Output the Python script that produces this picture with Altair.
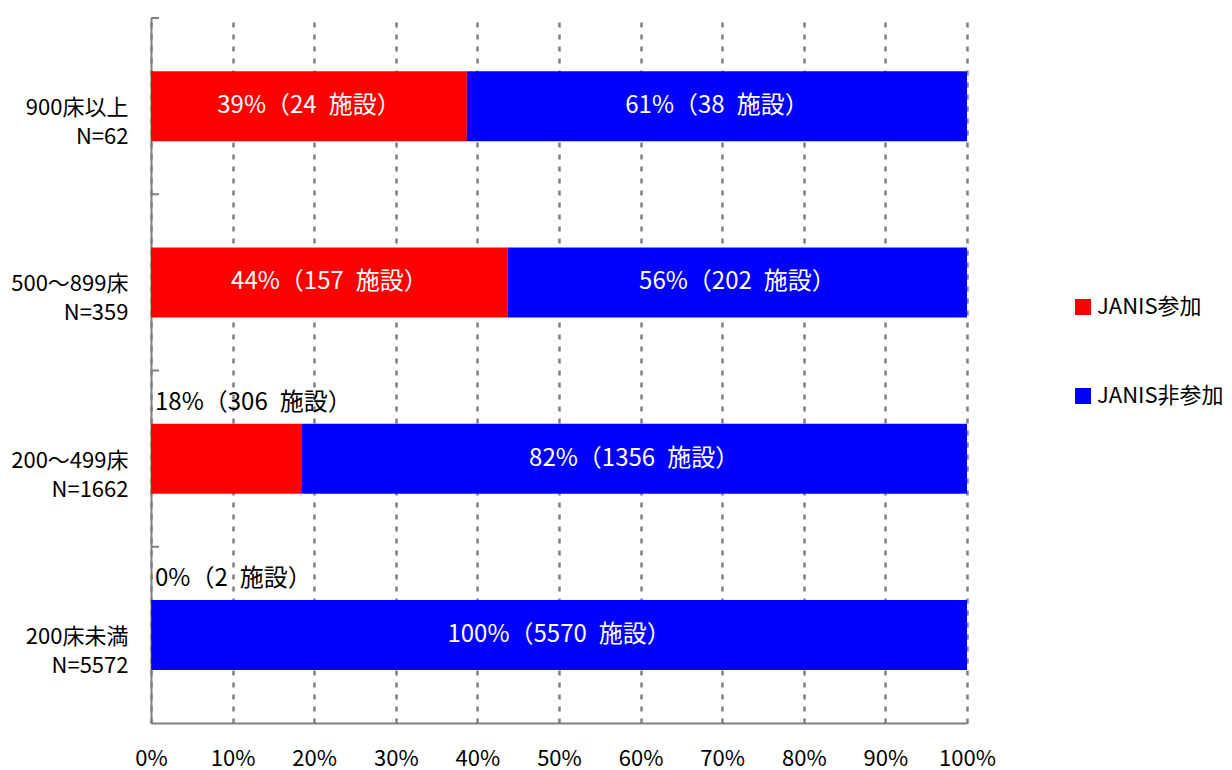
import altair as alt
import pandas as pd

categories = ["900床以上", "500～899床", "200～499床", "200床未満"]
totals = [62, 359, 1662, 5572]
series = ["JANIS参加", "JANIS非参加"]
joined_counts = [24, 157, 306, 2]
not_joined_counts = [38, 202, 1356, 5570]
joined_pct = [39, 44, 18, 0]
not_joined_pct = [61, 56, 82, 100]
colors = ["#FF0000", "#0000FF"]
x_ticks = [i / 10 for i in range(11)]

FONT = "Noto Sans CJK JP"
GRAY = "#808080"
SP = "\u2002"

rows = []
cat_labels = []
for i, c in enumerate(categories):
    lab = f"{c}\nN={totals[i]}"
    cat_labels.append(lab)
    s1 = joined_counts[i] / totals[i]
    rows.append(dict(cat=lab, series=series[0], start=0.0, end=s1, mid=s1 / 2,
                     text=f"{joined_pct[i]}%（{joined_counts[i]}{SP}施設）",
                     inside=bool(s1 > 0.3)))
    rows.append(dict(cat=lab, series=series[1], start=s1, end=1.0, mid=(s1 + 1) / 2,
                     text=f"{not_joined_pct[i]}%（{not_joined_counts[i]}{SP}施設）",
                     inside=True))
df = pd.DataFrame(rows)
cats_df = pd.DataFrame({"cat": cat_labels})

yscale = alt.Scale(domain=cat_labels, paddingInner=0, paddingOuter=0)
y_axis = alt.Axis(title=None, ticks=False, tickSize=0, domainColor=GRAY,
                  domainWidth=2, labelPadding=23, labelFontSize=22,
                  labelFont=FONT, labelColor="#000000", labelAlign="right",
                  labelBaseline="middle", labelOffset=2, labelLineHeight=29,
                  labelExpr="split(datum.label, '\\n')", labelLimit=300)
x_axis = alt.Axis(values=x_ticks, format=".0%", title=None, grid=True,
                  gridDash=[5, 7], gridColor=GRAY, gridWidth=2.5,
                  domainColor=GRAY, domainWidth=2, ticks=False, tickSize=0,
                  labelPadding=25, labelFontSize=22, labelFont=FONT,
                  labelColor="#000000", labelFlush=False)
xscale = alt.Scale(domain=[0, 1])

bars = alt.Chart(df).mark_bar(size=70).encode(
    x=alt.X("start:Q", scale=xscale, axis=x_axis),
    x2="end:Q",
    y=alt.Y("cat:N", scale=yscale, sort=cat_labels, axis=y_axis),
    color=alt.Color("series:N", scale=alt.Scale(domain=series, range=colors),
                    legend=alt.Legend(title=None, orient="none", legendX=921, legendY=278,
                                      symbolType="square", symbolSize=256,
                                      symbolStrokeWidth=0, labelFontSize=22,
                                      labelFont=FONT, labelColor="#000000",
                                      rowPadding=67, labelOffset=3, padding=0,
                                      labelLimit=300)),
)

ticks = alt.Chart(cats_df).mark_rule(color=GRAY, strokeWidth=2).encode(
    y=alt.Y("cat:N", scale=yscale, sort=cat_labels, bandPosition=0, axis=y_axis),
    x=alt.value(0),
    x2=alt.value(8),
)

inside = alt.Chart(df).transform_filter("datum.inside").mark_text(
    color="white", fontSize=24, font=FONT, align="center", baseline="middle"
).encode(
    x=alt.X("mid:Q", scale=xscale, axis=x_axis),
    y=alt.Y("cat:N", scale=yscale, sort=cat_labels, axis=y_axis),
    text="text:N",
)

outside = alt.Chart(df).transform_filter("!datum.inside").mark_text(
    color="black", fontSize=24, font=FONT, align="left", baseline="middle",
    dx=4, dy=-56
).encode(
    x=alt.X("start:Q", scale=xscale, axis=x_axis),
    y=alt.Y("cat:N", scale=yscale, sort=cat_labels, axis=y_axis),
    text="text:N",
)

chart = alt.layer(bars, ticks, inside, outside).properties(
    width=816, height=705,
    autosize=alt.AutoSizeParams(type="none"),
    padding={"left": 143, "top": 10, "right": 257, "bottom": 52},
).configure_view(stroke=None)

chart.save("out.html", embed_options={"renderer": "svg", "actions": False})
